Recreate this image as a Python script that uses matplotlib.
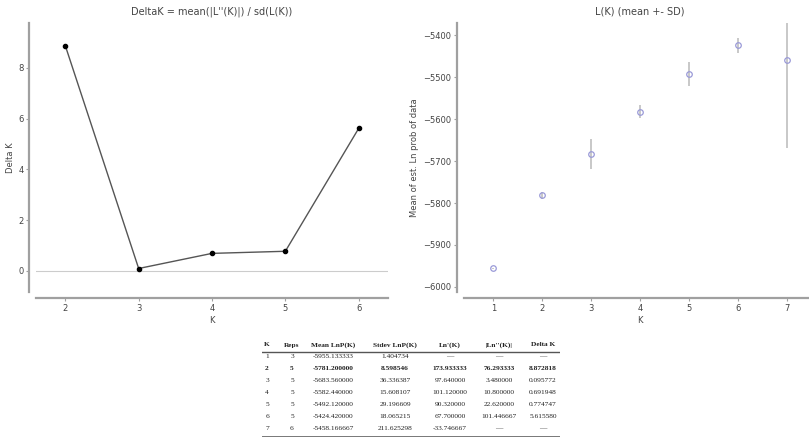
import matplotlib
matplotlib.use("Agg")
import matplotlib.pyplot as plt

# Evanno table values
ks = [1, 2, 3, 4, 5, 6, 7]
reps = [3, 5, 5, 5, 5, 5, 6]
mean_lnp = [-5955.133333, -5781.200000, -5683.560000, -5582.440000,
            -5492.120000, -5424.420000, -5458.166667]
sd_lnp = [1.404734, 8.598546, 36.336387, 15.608107, 29.196609,
          18.065215, 211.625298]
ln1 = [None, 173.933333, 97.640000, 101.120000, 90.320000, 67.700000, -33.746667]
ln2 = [None, 76.293333, 3.480000, 10.800000, 22.620000, 101.446667, None]
delta_k = [None, 8.872818, 0.095772, 0.691948, 0.774747, 5.615580, None]

headers = ["K", "Reps", "Mean LnP(K)", "Stdev LnP(K)", "Ln'(K)", "|Ln''(K)|", "Delta K"]

W, H = 809, 438
fig = plt.figure(figsize=(W / 100, H / 100), dpi=100)

spine_c = "#a0a0a0"
text_c = "#444444"


def style(ax):
    for s in ["top", "right"]:
        ax.spines[s].set_visible(False)
    ax.spines["left"].set_position(("outward", 5))
    ax.spines["bottom"].set_position(("outward", 4.5))
    for s in ["left", "bottom"]:
        ax.spines[s].set_color(spine_c)
        ax.spines[s].set_linewidth(1.6)
    ax.tick_params(length=2, width=0.8, color=spine_c, labelsize=6,
                   labelcolor=text_c, pad=2)


# left: Delta K
ax1 = fig.add_axes([36 / W, 1 - 292 / H, 352 / W, 269 / H])
style(ax1)
kk = [k for k, d in zip(ks, delta_k) if d is not None]
dd = [d for d in delta_k if d is not None]
ax1.axhline(0, color="#cccccc", lw=0.8)
ax1.plot(kk, dd, color="#555555", lw=1.0, marker="o", ms=3,
         mfc="black", mec="black")
ax1.set_xlim(1.6, 6.4)
ax1.set_ylim(-0.83, 9.77)
ax1.set_xticks([2, 3, 4, 5, 6])
ax1.set_yticks([0, 2, 4, 6, 8])
ax1.set_title("DeltaK = mean(|L''(K)|) / sd(L(K))", fontsize=7, color=text_c, pad=6)
ax1.set_xlabel("K", fontsize=6, color=text_c, labelpad=2)
ax1.set_ylabel("Delta K", fontsize=6, color=text_c, labelpad=2)

# right: L(K)
ax2 = fig.add_axes([464 / W, 1 - 292 / H, 352 / W, 269 / H])
style(ax2)
ax2.errorbar(ks, mean_lnp, yerr=sd_lnp, fmt="o", ms=4, mfc="none",
             mec="#9a9ad8", mew=0.9, ecolor="#c4c4c4", elinewidth=1.3)
ax2.set_xlim(0.4, 7.6)
ax2.set_ylim(-6012, -5371)
ax2.set_xticks(ks)
ax2.set_yticks([-6000, -5900, -5800, -5700, -5600, -5500, -5400])
ax2.set_title("L(K) (mean +- SD)", fontsize=7, color=text_c, pad=6)
ax2.set_xlabel("K", fontsize=6, color=text_c, labelpad=2)
ax2.set_ylabel("Mean of est. Ln prob of data", fontsize=6, color=text_c, labelpad=3)

# table
tab = fig.add_axes([262 / W, 1 - 437 / H, 298 / W, 99 / H])
tab.set_xlim(262, 560)
tab.set_ylim(437, 338)
tab.axis("off")
col_x = [267, 292, 333, 395, 450, 499, 543]
font = dict(family="Liberation Serif", fontsize=5.3, color="#222222",
            ha="center", va="center")
for x, h in zip(col_x, headers):
    tab.text(x, 345, h, fontweight="bold", **font)
tab.plot([262, 560], [352, 352], color="#555555", lw=1.0)
tab.plot([262, 560], [435.5, 435.5], color="#777777", lw=0.7)


def fmt(v):
    return "\u2014" if v is None else "%.6f" % v


for i in range(len(ks)):
    y = 357 + 12 * i
    row = [str(ks[i]), str(reps[i]), fmt(mean_lnp[i]), fmt(sd_lnp[i]),
           fmt(ln1[i]), fmt(ln2[i]), fmt(delta_k[i])]
    w = "bold" if i == 1 else "normal"
    for x, s in zip(col_x, row):
        tab.text(x, y, s, fontweight=w, **font)

fig.savefig("out.png", dpi=100)
